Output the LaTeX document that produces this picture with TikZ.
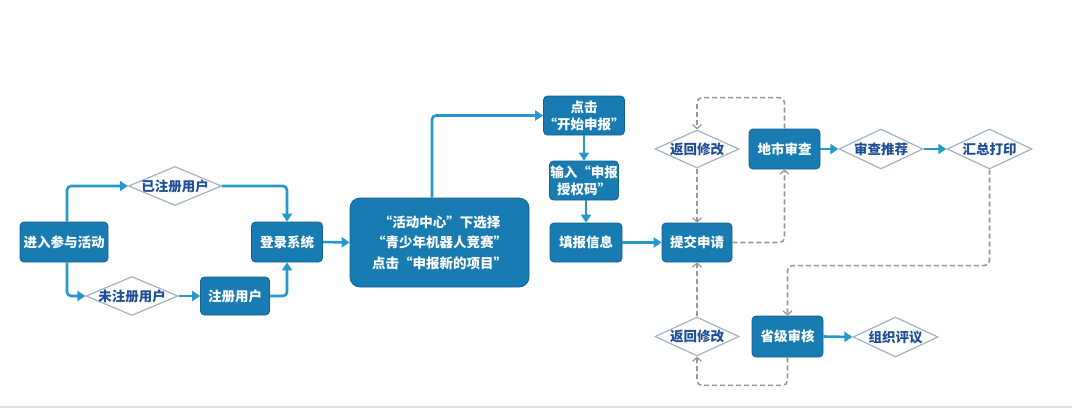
\documentclass[tikz,border=0pt]{standalone}
\usepackage{fontspec}
\setmainfont{Noto Sans CJK SC}
\usetikzlibrary{shapes.geometric,arrows.meta}
\definecolor{boxfill}{RGB}{24,124,178}
\definecolor{boxedge}{RGB}{18,98,148}
\definecolor{arrblue}{RGB}{38,152,206}
\definecolor{diaedge}{RGB}{160,178,196}
\definecolor{diatext}{RGB}{30,78,150}
\definecolor{dashgray}{RGB}{150,150,150}
\tikzset{
  box/.style={rectangle, rounded corners=4pt, fill=boxfill, draw=boxedge, line width=0.8pt,
    text=white, font=\fontsize{13.5}{17}\selectfont\bfseries, align=center, inner sep=0pt,
    minimum width=71pt, minimum height=40pt},
  dia/.style={diamond, draw=diaedge, line width=1.2pt, fill=white, text=diatext,
    font=\fontsize{13.5}{17}\selectfont\bfseries, inner sep=0pt,
    minimum width=85pt, minimum height=39pt},
  arr/.style={draw=arrblue, line width=2.6pt, rounded corners=4pt,
    -{Triangle[length=8pt,width=10pt]}},
  dsh/.style={draw=dashgray, line width=1.6pt, dash pattern=on 5pt off 3pt, rounded corners=5pt,
    -{Straight Barb[length=4pt,width=9pt,line width=1.2pt]}},
}
\begin{document}
\begin{tikzpicture}[x=1pt,y=-1pt]
\useasboundingbox (0,0) rectangle (1080,408);
\draw[draw=black!12, line width=2pt] (0,406.5) -- (1072,406.5);

\node[box, minimum width=88pt] (e) at (64,242) {进入参与活动};
\node[dia, minimum width=93pt] (d1) at (175,186) {\makebox[0pt]{已注册用户}};
\node[dia, minimum width=92pt] (d2) at (132,296) {\makebox[0pt]{未注册用户}};
\node[box, minimum width=69pt, minimum height=38pt] (reg) at (235,296) {注册用户};
\node[box] (login) at (287,242) {登录系统};
\node[box, rounded corners=10pt, minimum width=179pt, minimum height=89pt,
  font=\fontsize{13.5}{20.5}\selectfont\bfseries] (big) at (439.5,242.5)
  {“活动中心”下选择\\“青少年机器人竞赛”\\点击“申报新的项目”};
\node[box, minimum height=39pt] (s1) at (584,115.5) {点击\\“开始申报”};
\node[box, minimum width=69pt, minimum height=39pt] (s2) at (584,180.5) {输入“申报\\授权码”};
\node[box, minimum width=72pt, minimum height=39pt] (s3) at (586,242.5) {填报信息};
\node[box, minimum width=70pt, minimum height=39pt] (sub) at (697,242.5) {提交申请};
\node[dia, minimum width=84pt, minimum height=38pt] (r1) at (697,149) {\makebox[0pt]{返回修改}};
\node[box] (city) at (784.5,149) {地市审查};
\node[dia, minimum width=84pt, minimum height=40pt] (rec) at (881,149) {\makebox[0pt]{审查推荐}};
\node[dia, minimum width=85pt, minimum height=40pt] (print) at (989.5,149) {\makebox[0pt]{汇总打印}};
\node[dia, minimum width=84pt, minimum height=39pt] (r2) at (697,336.5) {\makebox[0pt]{返回修改}};
\node[box, minimum height=41pt] (prov) at (787.5,336.5) {省级审核};
\node[dia, minimum width=85pt, minimum height=40pt] (org) at (895.5,337) {\makebox[0pt]{组织评议}};

% blue connectors
\draw[arr] ([xshift=3pt]e.north) |- (d1.west);
\draw[arr] ([xshift=3pt]e.south) |- (d2.west);
\draw[arr] (d1.east) -| (login.north);
\draw[arr] (d2.east) -- (reg.west);
\draw[arr] (reg.east) -| (login.south);
\draw[arr] (login.east) -- (big.west);
\draw[arr] ([xshift=-7.5pt]big.north) |- (s1.west);
\draw[arr] (s1.south) -- (s2.north);
\draw[arr] (s2.south -| s3.north) -- (s3.north);
\draw[arr] (s3.east) -- (sub.west);
\draw[arr] (city.east) -- (rec.west);
\draw[arr] (rec.east) -- (print.west);
\draw[arr] (prov.east) -- (org.west);

% dashed connectors
\draw[dsh] (city.north) -- ++(0,-31) -| (r1.north);
\draw[dsh] (r1.south) -- (sub.north);
\draw[dsh] (sub.east) -| (city.south);
\draw[dsh] (print.south) -- ++(0,96) -| (prov.north);
\draw[dsh] (prov.south) -- ++(0,28) -| (r2.south);
\draw[dsh] (r2.north) -- (sub.south);
\end{tikzpicture}
\end{document}
